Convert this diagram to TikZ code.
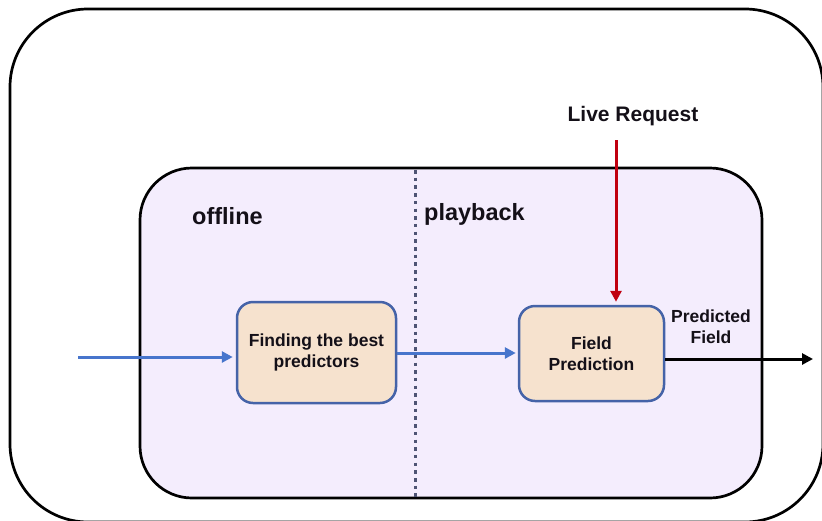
\documentclass[tikz,border=0pt]{standalone}
\usepackage{fontspec}
\setmainfont{Liberation Sans}
\usetikzlibrary{arrows.meta}
\definecolor{lav}{HTML}{F4EDFD}
\definecolor{peach}{HTML}{F6E2CE}
\definecolor{boxblue}{HTML}{4563A8}
\definecolor{arrblue}{HTML}{4775CC}
\definecolor{darkred}{HTML}{C00010}
\definecolor{dotgray}{HTML}{4E5474}
\definecolor{txt}{HTML}{141018}
\tikzset{
  procbox/.style={draw=boxblue, line width=2.5pt, fill=peach, rounded corners=16pt, align=center, font=\fontsize{17.5}{21}\selectfont\bfseries, text=txt, inner sep=0pt},
  lbl/.style={font=\fontsize{23.5}{27}\selectfont\bfseries, text=txt, inner sep=0pt, anchor=base west},
  flow/.style={line width=3pt, -{Triangle[length=11pt,width=11pt]}},
}
\begin{document}
\begin{tikzpicture}[x=1pt,y=-1pt]
\useasboundingbox (0,0) rectangle (822,520);
\clip (0,0) rectangle (822,520);
% outer frame
\draw[line width=2.7pt, rounded corners=78pt] (10,9) rectangle (823,522);
% inner region
\draw[line width=2.7pt, fill=lav, rounded corners=52pt] (140,168) rectangle (762,498);
% divider
\draw[dotgray, line width=3pt, dash pattern=on 3.5pt off 4.2pt] (415,170) -- (415,497);
% labels
\node[lbl] (off) at (192,224) {offline};
\node[lbl] (play) at (424,220) {playback};
\node[font=\fontsize{21}{25}\selectfont\bfseries, text=txt, inner sep=0pt] (live) at (633,116) {Live Request};
% boxes
\node[procbox, minimum width=159pt, minimum height=101pt] (find) at (316.5,352.5) {Finding the best\\predictors};
\node[procbox, minimum width=145pt, minimum height=95pt] (pred) at (591.5,353.5) {\raisebox{-4pt}{\parbox{130pt}{\centering Field\\Prediction}}};
\node[font=\fontsize{17.5}{21}\selectfont\bfseries, text=txt, align=center, inner sep=0pt] (pf) at (711,327) {Predicted\\Field};
% connectors
\coordinate (in) at (78,357);
\coordinate (out) at (813,359);
\coordinate (livetop) at (616,140);
\draw[flow, arrblue, shorten >=3pt] (in) -- (in -| find.west);
\draw[flow, arrblue, shorten >=2pt] (find.east |- 0,353) -- (pred.west |- 0,353);
\draw[flow, darkred, shorten >=3pt] (livetop) -- (livetop |- pred.north);
\draw[flow, black] (pred.east |- out) -- (out);
\end{tikzpicture}
\end{document}
